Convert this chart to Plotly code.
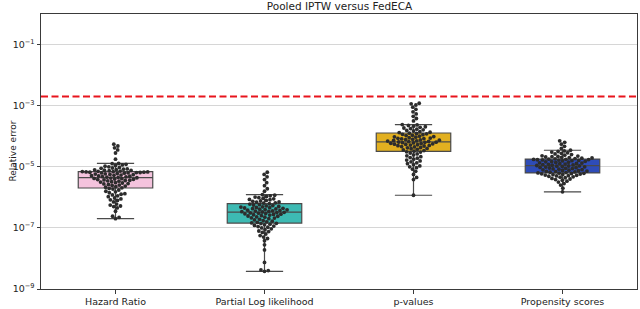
import numpy as np
import plotly.graph_objects as go

categories = ["Hazard Ratio", "Partial Log likelihood", "p-values", "Propensity scores"]
box_colors = ["#f4c3dd", "#3dbab3", "#e2b020", "#2e4cb8"]

hazard_ratio = [
    2.0e-7, 2.2e-7, 2.4e-7, 3.5e-7, 4.5e-7, 5.0e-7, 5.2e-7, 5.6e-7, 6.0e-7, 7.1e-7,
    7.9e-7, 8.3e-7, 8.9e-7, 9.5e-7, 1.05e-6, 1.12e-6, 1.2e-6, 1.26e-6, 1.32e-6, 1.41e-6,
    1.51e-6, 1.58e-6, 1.74e-6, 1.86e-6, 1.95e-6,
    2.04e-6, 2.14e-6, 2.24e-6, 2.34e-6, 2.45e-6, 2.51e-6, 2.63e-6, 2.75e-6, 2.82e-6, 2.95e-6,
    3.02e-6, 3.16e-6, 3.24e-6, 3.39e-6, 3.47e-6, 3.55e-6, 3.63e-6, 3.72e-6, 3.80e-6, 3.89e-6,
    3.98e-6, 4.07e-6, 4.17e-6, 4.27e-6, 4.37e-6,
    4.47e-6, 4.57e-6, 4.68e-6, 4.79e-6, 4.90e-6, 5.01e-6, 5.13e-6, 5.25e-6, 5.37e-6, 5.50e-6,
    5.62e-6, 5.75e-6, 5.89e-6, 6.03e-6, 6.17e-6, 6.31e-6, 6.35e-6, 6.46e-6, 6.50e-6, 6.61e-6,
    6.65e-6, 6.76e-6, 6.80e-6, 6.92e-6, 6.95e-6,
    7.08e-6, 7.24e-6, 7.41e-6, 7.59e-6, 7.76e-6, 7.94e-6, 8.13e-6, 8.32e-6, 8.51e-6, 8.91e-6,
    9.12e-6, 9.55e-6, 1.0e-5, 1.05e-5, 1.10e-5, 1.15e-5, 1.20e-5, 1.26e-5, 1.29e-5, 1.78e-5,
    2.82e-5, 3.55e-5, 4.17e-5, 4.79e-5, 5.50e-5,
]

partial_log_likelihood = [
    3.8e-9, 4.0e-9, 4.2e-9, 7.4e-9, 1.9e-8, 2.8e-8, 3.8e-8, 4.5e-8, 5.0e-8, 5.6e-8,
    6.3e-8, 7.1e-8, 7.6e-8, 7.9e-8, 8.7e-8, 9.3e-8, 1.0e-7, 1.05e-7, 1.10e-7, 1.15e-7,
    1.20e-7, 1.26e-7, 1.32e-7, 1.38e-7, 1.41e-7,
    1.45e-7, 1.51e-7, 1.58e-7, 1.66e-7, 1.74e-7, 1.82e-7, 1.91e-7, 2.0e-7, 2.09e-7, 2.14e-7,
    2.24e-7, 2.29e-7, 2.40e-7, 2.45e-7, 2.51e-7, 2.63e-7, 2.69e-7, 2.75e-7, 2.82e-7, 2.88e-7,
    2.95e-7, 3.02e-7, 3.09e-7, 3.16e-7, 3.24e-7,
    3.31e-7, 3.39e-7, 3.47e-7, 3.55e-7, 3.63e-7, 3.72e-7, 3.80e-7, 3.89e-7, 3.98e-7, 4.07e-7,
    4.17e-7, 4.27e-7, 4.37e-7, 4.47e-7, 4.57e-7, 4.68e-7, 4.79e-7, 4.90e-7, 5.01e-7, 5.25e-7,
    5.37e-7, 5.62e-7, 5.75e-7, 6.03e-7, 6.17e-7,
    6.46e-7, 6.61e-7, 6.92e-7, 7.08e-7, 7.41e-7, 7.59e-7, 7.94e-7, 8.32e-7, 8.51e-7, 8.91e-7,
    9.33e-7, 9.77e-7, 1.02e-6, 1.07e-6, 1.12e-6, 1.17e-6, 1.23e-6, 1.58e-6, 1.91e-6, 2.40e-6,
    3.02e-6, 3.80e-6, 4.68e-6, 5.62e-6, 6.61e-6,
]

p_values = [
    1.17e-6, 3.8e-6, 4.47e-6, 5.62e-6, 7.08e-6, 8.32e-6, 9.33e-6, 1.0e-5, 1.07e-5, 1.17e-5,
    1.26e-5, 1.35e-5, 1.45e-5, 1.55e-5, 1.66e-5, 1.78e-5, 1.91e-5, 2.0e-5, 2.14e-5, 2.29e-5,
    2.45e-5, 2.63e-5, 2.82e-5, 3.02e-5, 3.09e-5,
    3.24e-5, 3.39e-5, 3.55e-5, 3.72e-5, 3.89e-5, 3.98e-5, 4.17e-5, 4.27e-5, 4.47e-5, 4.57e-5,
    4.79e-5, 4.90e-5, 5.01e-5, 5.13e-5, 5.25e-5, 5.37e-5, 5.50e-5, 5.62e-5, 5.75e-5, 5.89e-5,
    6.03e-5, 6.17e-5, 6.31e-5, 6.38e-5, 6.46e-5,
    6.61e-5, 6.76e-5, 6.92e-5, 7.08e-5, 7.24e-5, 7.41e-5, 7.59e-5, 7.76e-5, 7.94e-5, 8.13e-5,
    8.32e-5, 8.51e-5, 8.71e-5, 8.91e-5, 9.33e-5, 9.55e-5, 9.77e-5, 1.0e-4, 1.05e-4, 1.07e-4,
    1.12e-4, 1.15e-4, 1.20e-4, 1.23e-4, 1.26e-4,
    1.32e-4, 1.35e-4, 1.41e-4, 1.48e-4, 1.55e-4, 1.62e-4, 1.70e-4, 1.78e-4, 1.86e-4, 1.95e-4,
    2.04e-4, 2.14e-4, 2.24e-4, 2.34e-4, 2.40e-4, 3.16e-4, 3.80e-4, 4.47e-4, 5.37e-4, 6.31e-4,
    7.59e-4, 8.91e-4, 1.05e-3, 1.15e-3, 1.20e-3,
]

propensity_scores = [
    1.51e-6, 2.0e-6, 2.51e-6, 2.82e-6, 3.16e-6, 3.39e-6, 3.63e-6, 3.80e-6, 3.98e-6, 4.17e-6,
    4.37e-6, 4.57e-6, 4.68e-6, 4.90e-6, 5.01e-6, 5.13e-6, 5.25e-6, 5.37e-6, 5.50e-6, 5.62e-6,
    5.75e-6, 5.89e-6, 6.03e-6, 6.10e-6, 6.17e-6,
    6.31e-6, 6.46e-6, 6.61e-6, 6.76e-6, 6.92e-6, 7.08e-6, 7.24e-6, 7.41e-6, 7.59e-6, 7.76e-6,
    7.94e-6, 8.13e-6, 8.32e-6, 8.51e-6, 8.71e-6, 8.91e-6, 9.12e-6, 9.33e-6, 9.55e-6, 9.77e-6,
    1.0e-5, 1.02e-5, 1.05e-5, 1.06e-5, 1.07e-5,
    1.10e-5, 1.12e-5, 1.15e-5, 1.17e-5, 1.20e-5, 1.23e-5, 1.26e-5, 1.29e-5, 1.32e-5, 1.35e-5,
    1.38e-5, 1.41e-5, 1.45e-5, 1.48e-5, 1.51e-5, 1.55e-5, 1.58e-5, 1.62e-5, 1.66e-5, 1.68e-5,
    1.70e-5, 1.72e-5, 1.74e-5, 1.76e-5, 1.78e-5,
    1.82e-5, 1.86e-5, 1.91e-5, 1.95e-5, 2.0e-5, 2.04e-5, 2.09e-5, 2.14e-5, 2.19e-5, 2.24e-5,
    2.29e-5, 2.40e-5, 2.51e-5, 2.63e-5, 2.75e-5, 2.88e-5, 3.02e-5, 3.16e-5, 3.31e-5, 3.47e-5,
    3.98e-5, 4.68e-5, 5.50e-5, 6.31e-5, 7.08e-5,
]

threshold = 2e-3
ytick_vals = [1e-9, 1e-7, 1e-5, 1e-3, 1e-1]
ytick_text = ["10<sup>−9</sup>", "10<sup>−7</sup>", "10<sup>−5</sup>", "10<sup>−3</sup>", "10<sup>−1</sup>"]

series = [hazard_ratio, partial_log_likelihood, p_values, propensity_scores]

FONT = "DejaVu Sans"
W, H = 640, 309
ML, MR, MT, MB = 41, 2, 14, 16
PW, PH = W - ML - MR, H - MT - MB
X_RANGE = [-0.5, 3.5]
Y_RANGE = [-9, 0]
PX_PER_X = PW / (X_RANGE[1] - X_RANGE[0])
PX_PER_DEC = PH / (Y_RANGE[1] - Y_RANGE[0])
DOT = 3.8


def box_stats(vals):
    a = np.sort(np.asarray(vals, dtype=float))
    q1, med, q3 = np.percentile(a, [25, 50, 75])
    iqr = q3 - q1
    lo = a[a >= q1 - 1.5 * iqr].min()
    hi = a[a <= q3 + 1.5 * iqr].max()
    return q1, med, q3, lo, hi


def swarm_offsets(vals, d):
    ys = np.log10(np.asarray(vals, dtype=float)) * PX_PER_DEC
    order = np.argsort(ys)
    placed = []
    xs = np.zeros(len(ys))
    for i in order:
        y = ys[i]
        nb = [(px, py) for px, py in placed if abs(py - y) < d]
        cands = [0.0]
        for px, py in nb:
            dx = np.sqrt(max(d * d - (py - y) ** 2, 0.0))
            cands += [px + dx, px - dx]
        cands.sort(key=abs)
        for c in cands:
            if all((c - px) ** 2 + (y - py) ** 2 >= d * d - 1e-6 for px, py in nb):
                xs[i] = c
                placed.append((c, y))
                break
    return xs / PX_PER_X


fig = go.Figure()
edge = "#4a4a4a"
for i, (vals, col) in enumerate(zip(series, box_colors)):
    q1, med, q3, lo, hi = box_stats(vals)
    fig.add_trace(go.Box(
        x=[i], q1=[q1], median=[med], q3=[q3], lowerfence=[lo], upperfence=[hi],
        width=0.5, whiskerwidth=0.5, fillcolor=col,
        line=dict(color=edge, width=1.2), boxpoints=False,
        showlegend=False, hoverinfo="skip",
    ))

for i, vals in enumerate(series):
    offs = swarm_offsets(vals, DOT)
    fig.add_trace(go.Scatter(
        x=i + offs, y=vals, mode="markers",
        marker=dict(size=DOT, color="#2c2c2c", line=dict(width=0)),
        showlegend=False, hoverinfo="skip",
    ))

fig.add_trace(go.Scatter(
    x=X_RANGE, y=[threshold, threshold], mode="lines",
    line=dict(color="#e8141c", width=2, dash="7px,3.5px"),
    showlegend=False, hoverinfo="skip",
))

fig.update_layout(
    width=W, height=H,
    margin=dict(l=ML, r=MR, t=MT, b=MB, pad=0),
    paper_bgcolor="white", plot_bgcolor="white",
    font=dict(family=FONT, size=9.5, color="#222222"),
    title=dict(text="Pooled IPTW versus FedECA", x=(ML + PW / 2) / W, xanchor="center",
               y=1 - 6 / H, yanchor="middle", yref="container",
               font=dict(size=10.5, family=FONT, color="#222222")),
    xaxis=dict(range=X_RANGE, tickvals=[0, 1, 2, 3], ticktext=categories,
               showgrid=False, zeroline=False, showline=True, mirror=True,
               linecolor="#3a3a3a", linewidth=1, ticks="outside", ticklen=3.5,
               tickcolor="#3a3a3a", tickfont=dict(size=9.5)),
    yaxis=dict(type="log", range=Y_RANGE, tickvals=ytick_vals, ticktext=ytick_text,
               showgrid=True, gridcolor="#d6d6d6", gridwidth=1, zeroline=False,
               showline=True, mirror=True, linecolor="#3a3a3a", linewidth=1,
               ticks="outside", ticklen=3.5, tickcolor="#3a3a3a",
               tickfont=dict(size=9.5)),
    annotations=[dict(text="Relative error", x=(5 - ML) / PW, y=0.5,
                      xref="paper", yref="paper", textangle=-90,
                      showarrow=False, font=dict(size=9, family=FONT))],
)

fig.write_html(
    "out.html",
    config={"displayModeBar": False},
    post_script="document.body.style.margin='0';document.body.style.overflow='hidden';",
)
